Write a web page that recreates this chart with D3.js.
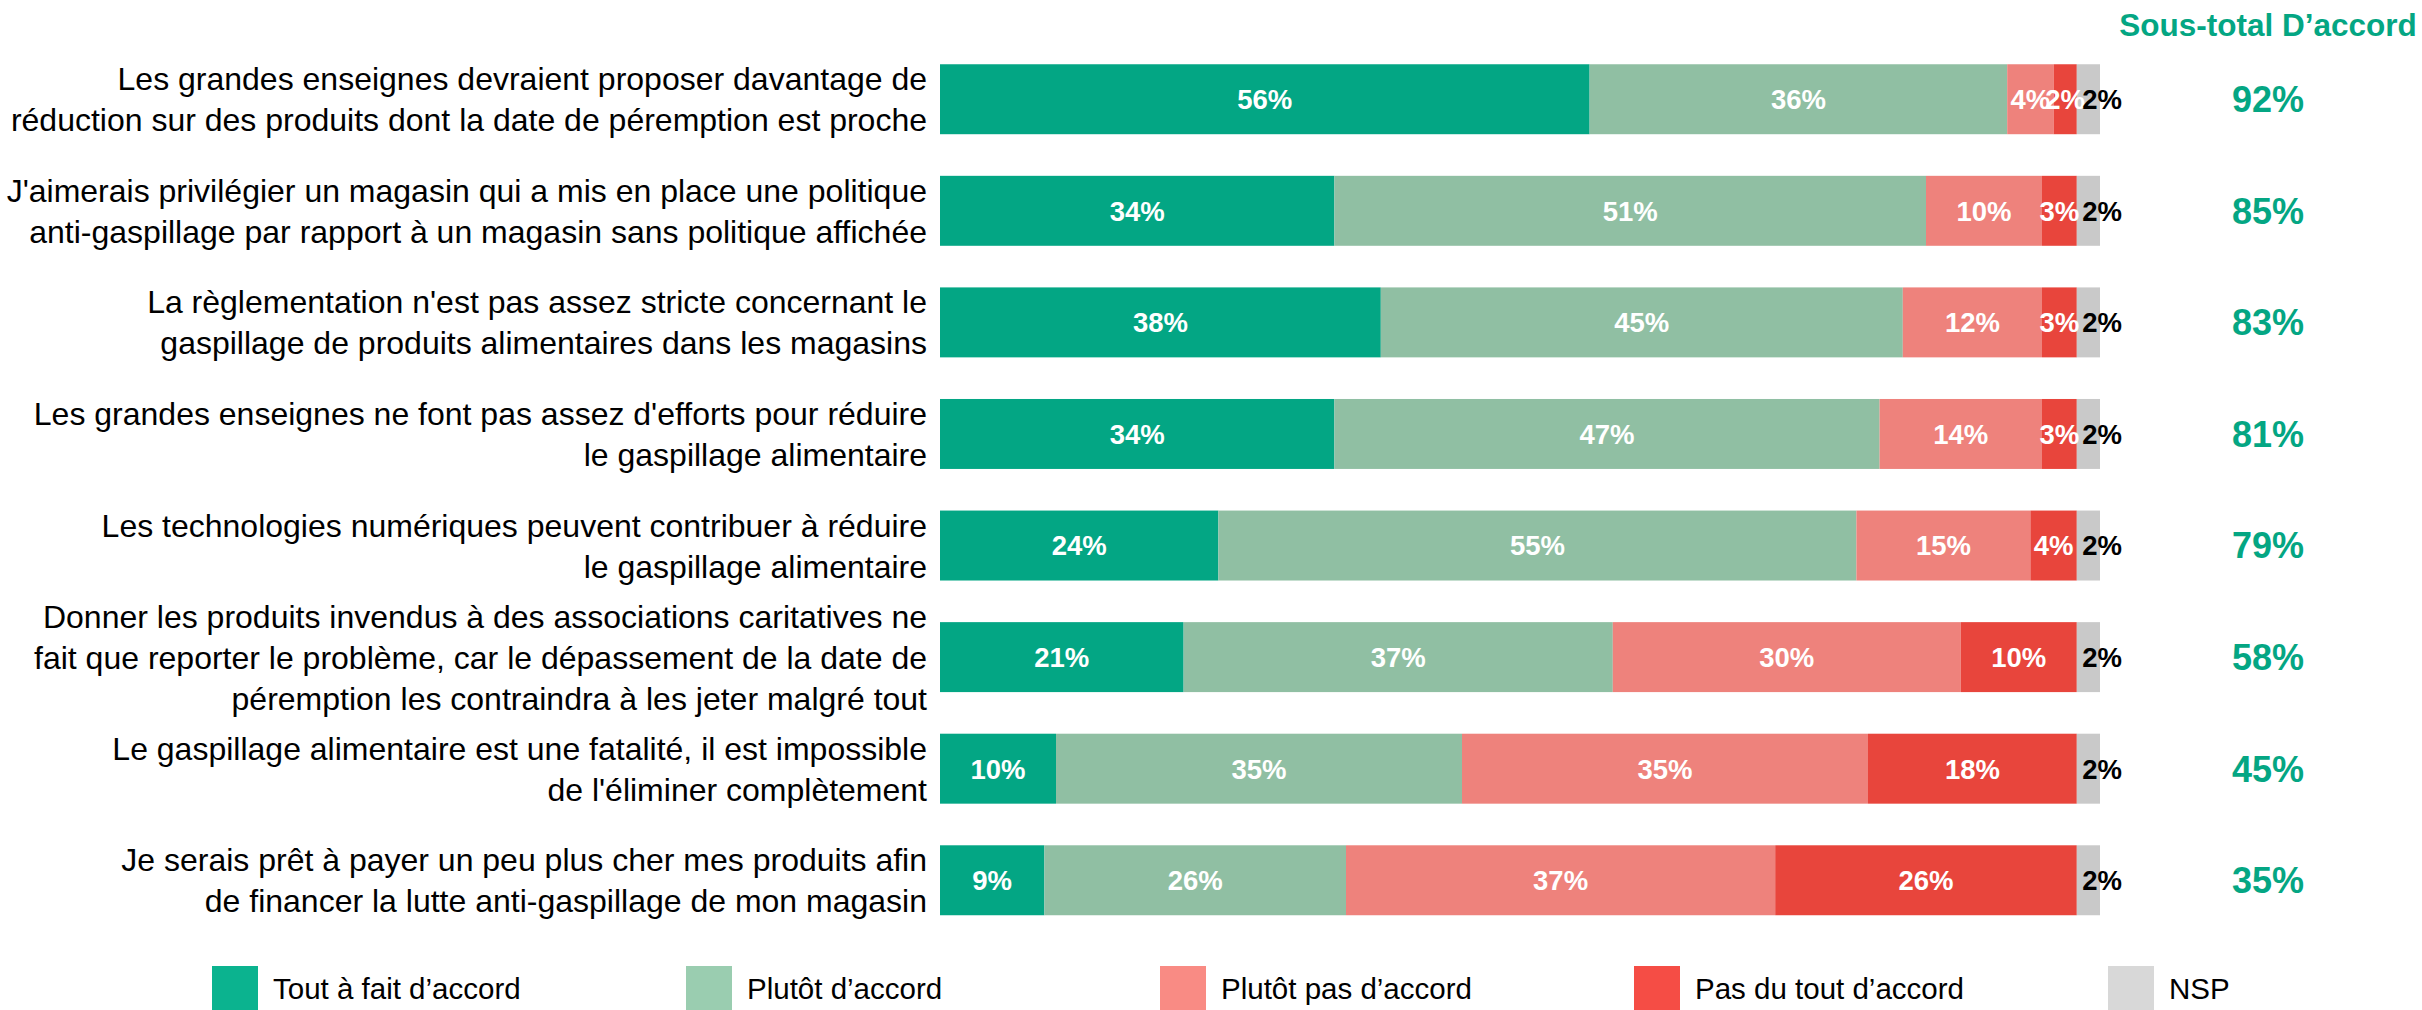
<!DOCTYPE html>
<html><head><meta charset="utf-8">
<script src="https://cdn.jsdelivr.net/npm/d3@7"></script>
<style>body{margin:0;background:#fff;} svg{display:block;font-family:"Liberation Sans",Arial,sans-serif;}</style>
</head><body>
<svg id="chart" width="2422" height="1010"></svg>
<script>
const categories = [
  ["Les grandes enseignes devraient proposer davantage de", "réduction sur des produits dont la date de péremption est proche"],
  ["J'aimerais privilégier un magasin qui a mis en place une politique", "anti-gaspillage par rapport à un magasin sans politique affichée"],
  ["La règlementation n'est pas assez stricte concernant le", "gaspillage de produits alimentaires dans les magasins"],
  ["Les grandes enseignes ne font pas assez d'efforts pour réduire", "le gaspillage alimentaire"],
  ["Les technologies numériques peuvent contribuer à réduire", "le gaspillage alimentaire"],
  ["Donner les produits invendus à des associations caritatives ne", "fait que reporter le problème, car le dépassement de la date de", "péremption les contraindra à les jeter malgré tout"],
  ["Le gaspillage alimentaire est une fatalité, il est impossible", "de l'éliminer complètement"],
  ["Je serais prêt à payer un peu plus cher mes produits afin", "de financer la lutte anti-gaspillage de mon magasin"]
];
const seriesNames = ["Tout à fait d’accord", "Plutôt d’accord", "Plutôt pas d’accord", "Pas du tout d’accord", "NSP"];
const toutAFait   = [56, 34, 38, 34, 24, 21, 10, 9];
const plutot      = [36, 51, 45, 47, 55, 37, 35, 26];
const plutotPas   = [4, 10, 12, 14, 15, 30, 35, 37];
const pasDuTout   = [2, 3, 3, 3, 4, 10, 18, 26];
const nsp         = [2, 2, 2, 2, 2, 2, 2, 2];
const sousTotal   = [92, 85, 83, 81, 79, 58, 45, 35];
const sousTotalTitle = "Sous-total D’accord";

const barColors = ["#03A684", "#90BFA3", "#EE827C", "#E8453C", "#C9C9C9"];
const legendColors = ["#0BB38F", "#9ACDB0", "#F98B84", "#F54D45", "#D8D8D8"];
const labelColors = ["#fff", "#fff", "#fff", "#fff", "#000"];
const green = "#04A683";

const svg = d3.select("#chart");
const seriesData = [toutAFait, plutot, plutotPas, pasDuTout, nsp];
const rows = categories.map((c, i) => {
  const o = {i};
  seriesNames.forEach((s, k) => o[s] = seriesData[k][i]);
  return o;
});
const stack = d3.stack().keys(seriesNames)(rows);

const x = d3.scaleLinear().domain([0, 100]).range([940, 2100]);
const y = d3.scaleBand().domain(d3.range(categories.length)).range([43.5, 936]).paddingInner(0.373).paddingOuter(0.186);

const g = svg.append("g");
stack.forEach((layer, k) => {
  const lg = g.append("g");
  lg.selectAll("rect").data(layer).join("rect")
    .attr("x", d => x(d[0]))
    .attr("y", d => y(d.data.i))
    .attr("width", d => x(d[1]) - x(d[0]))
    .attr("height", y.bandwidth())
    .attr("fill", barColors[k]);
});
stack.forEach((layer, k) => {
  g.append("g").selectAll("text").data(layer).join("text")
    .attr("x", d => k === 4 ? x(d[1]) + 2 : (x(d[0]) + x(d[1])) / 2)
    .attr("y", d => y(d.data.i) + y.bandwidth() / 2)
    .attr("dy", "0.36em")
    .attr("text-anchor", "middle")
    .attr("font-size", 27.5)
    .attr("font-weight", "bold")
    .attr("fill", labelColors[k])
    .text(d => (d[1] - d[0]) + "%");
});

// category labels
const lineH = 41;
categories.forEach((lines, i) => {
  const cy = y(i) + y.bandwidth() / 2;
  const t = svg.append("text")
    .attr("text-anchor", "end")
    .attr("font-size", 32)
    .attr("fill", "#000");
  lines.forEach((ln, j) => {
    t.append("tspan")
      .attr("x", 927)
      .attr("y", cy + (j - (lines.length - 1) / 2) * lineH)
      .attr("dy", "0.36em")
      .text(ln);
  });
});

// sous-total
svg.append("text")
  .attr("x", 2268).attr("y", 36)
  .attr("text-anchor", "middle")
  .attr("font-size", 31.5).attr("font-weight", "bold")
  .attr("fill", green)
  .text(sousTotalTitle);
svg.append("g").selectAll("text").data(sousTotal).join("text")
  .attr("x", 2268)
  .attr("y", (d, i) => y(i) + y.bandwidth() / 2)
  .attr("dy", "0.36em")
  .attr("text-anchor", "middle")
  .attr("font-size", 36).attr("font-weight", "bold")
  .attr("fill", green)
  .text(d => d + "%");

// legend
const legendX = d3.scalePoint().domain(seriesNames).range([212, 2108]);
const leg = svg.append("g").selectAll("g").data(seriesNames).join("g")
  .attr("transform", d => `translate(${legendX(d)},966)`);
leg.append("rect").attr("width", 46).attr("height", 44)
  .attr("fill", (d, i) => legendColors[i]);
leg.append("text").attr("x", 61).attr("y", 22).attr("dy", "0.36em")
  .attr("font-size", 29.5).attr("fill", "#000")
  .text(d => d);
</script>
</body></html>
